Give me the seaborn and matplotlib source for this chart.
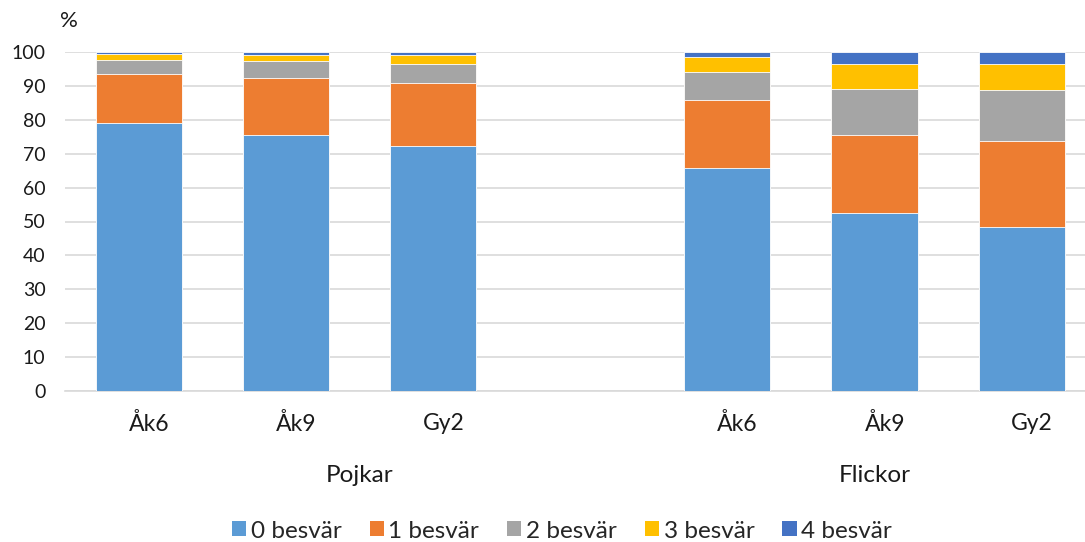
import matplotlib
matplotlib.use("Agg")
import matplotlib.pyplot as plt
from matplotlib.patches import Patch
import matplotlib.transforms as mtransforms
import numpy as np
import pandas as pd
import seaborn as sns

# ========== Data ==========
groups = ["Pojkar", "Pojkar", "Pojkar", "Flickor", "Flickor", "Flickor"]
grades = ["Åk6", "Åk9", "Gy2", "Åk6", "Åk9", "Gy2"]
positions = [0, 1, 2, 4, 5, 6]  # slot 3 is empty, as in the original

series = ["0 besvär", "1 besvär", "2 besvär", "3 besvär", "4 besvär"]
besvar_0 = [79.0, 75.4, 72.2, 65.7, 52.5, 48.3]
besvar_1 = [14.4, 17.0, 18.7, 20.1, 23.1, 25.4]
besvar_2 = [4.3, 4.9, 5.6, 8.4, 13.5, 15.0]
besvar_3 = [1.8, 1.9, 2.6, 4.2, 7.4, 7.7]
besvar_4 = [0.5, 0.8, 0.9, 1.6, 3.4, 3.5]
colors = ["#5B9BD5", "#ED7D31", "#A5A5A5", "#FFC000", "#4472C4"]

df = pd.DataFrame({"pos": positions, "grade": grades, "group": groups})
values = [besvar_0, besvar_1, besvar_2, besvar_3, besvar_4]
cum = np.cumsum(np.array(values), axis=0)
for i, s in enumerate(series):
    df[s] = cum[i]

# ========== Plot ==========
sns.set_style("white")
plt.rcParams["font.family"] = ["Lato", "DejaVu Sans"]
txt = "#1a1a1a"

fig = plt.figure(figsize=(10.85, 5.42), dpi=100)
ax = fig.add_axes([65 / 1085, 151 / 542, 1020 / 1085, 339 / 542])

# draw stacked bars from the top layer down
for s, c in reversed(list(zip(series, colors))):
    sns.barplot(data=df, x="pos", y=s, color=c, native_scale=True, width=0.585,
                edgecolor="white", linewidth=0.6, ax=ax, zorder=3, saturation=1)

ax.set_xlim(-0.5, 6.43)
ax.set_ylim(0, 100)
ax.set_yticks(range(0, 101, 10))
ax.tick_params(axis="y", labelsize=14, length=0, pad=14, colors=txt)
ax.yaxis.grid(True, color="#D9D9D9", linewidth=1.2, zorder=0)
ax.set_xticks([])
ax.set_xlabel("")
ax.set_ylabel("")
for side in ["top", "right", "left"]:
    ax.spines[side].set_visible(False)
ax.spines["bottom"].set_color("#D9D9D9")
ax.spines["bottom"].set_linewidth(1.2)

trans = mtransforms.blended_transform_factory(ax.transData, ax.transAxes)
for p, g in zip(positions, grades):
    ax.text(p + 0.07, -0.097, g, transform=trans, ha="center", va="center",
            fontsize=16.5, color=txt)
ax.text(1.5, -0.25, "Pojkar", transform=trans, ha="center", va="center",
        fontsize=17.5, color=txt)
ax.text(5, -0.25, "Flickor", transform=trans, ha="center", va="center",
        fontsize=17.5, color=txt)

fig.text(69 / 1085, 1 - 21 / 542, "%", ha="center", va="center", fontsize=16,
         color=txt)

handles = [Patch(facecolor=c, edgecolor="none") for c in colors]
fig.legend(handles, series, loc="center", bbox_to_anchor=(0.518, 1 - 531 / 542),
           ncol=5, frameon=False, fontsize=17.5, handlelength=0.58, handleheight=0.58,
           handletextpad=0.2, columnspacing=1.15, borderpad=0)

fig.savefig("out.png", dpi=100)
